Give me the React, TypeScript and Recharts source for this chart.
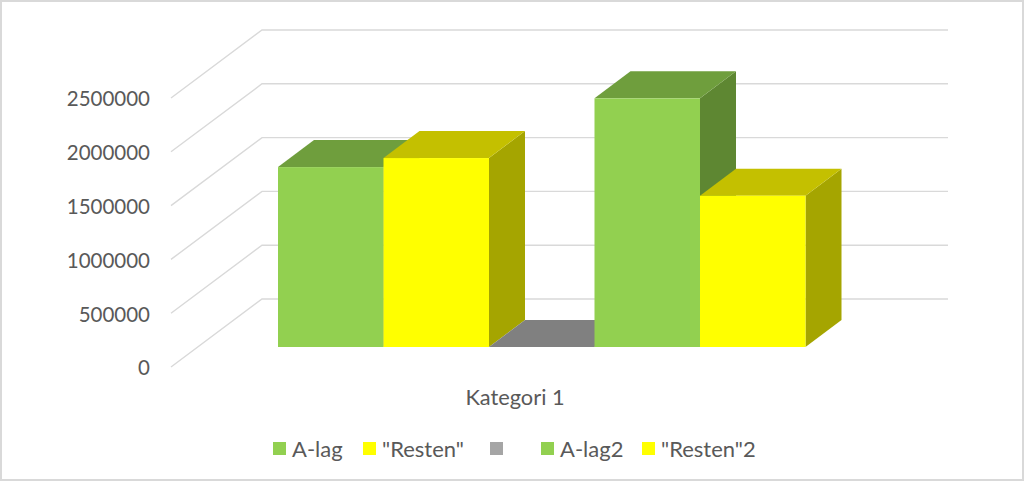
import * as React from "react";
import {
  Bar,
  BarChart,
  CartesianGrid,
  Legend,
  XAxis,
  YAxis,
} from "recharts";

const categories = ["Kategori 1"];
const aLag = [1672000];
const resten = [1756000];
const blank = [0];
const aLag2 = [2311000];
const resten2 = [1406000];
const yTicks = [0, 500000, 1000000, 1500000, 2000000, 2500000];

const rows = categories.map((name, i) => ({
  name,
  aLag: aLag[i],
  resten: resten[i],
  blank: blank[i],
  aLag2: aLag2[i],
  resten2: resten2[i],
}));

const TEXT = "#595959";
const GRID = "#d9d9d9";
const FONT = "Lato, sans-serif";

// how far the back of each bar sits from its front face
const DEPTH_X = 36;
const DEPTH_Y = 27;

// legend item widths, left edge to left edge
const LEGEND_WIDTHS = [90, 127, 51, 101, 120];

const GREEN = { front: "#92d050", top: "#6f9e3d", side: "#5e8732" };
const YELLOW = { front: "#ffff00", top: "#c4c000", side: "#a5a500" };
const GREY = { front: "#a5a5a5", top: "#808080", side: "#6e6e6e" };

function box3d(colors: { front: string; top: string; side: string }) {
  return function Box(props: any) {
    const { x, y, width, height } = props;
    const r = x + width;
    const b = y + height;
    return (
      <g>
        {height > 0 && (
          <polygon
            points={`${r},${y} ${r + DEPTH_X},${y - DEPTH_Y} ${r + DEPTH_X},${b - DEPTH_Y} ${r},${b}`}
            fill={colors.side}
          />
        )}
        <polygon
          points={`${x},${y} ${r},${y} ${r + DEPTH_X},${y - DEPTH_Y} ${x + DEPTH_X},${y - DEPTH_Y}`}
          fill={colors.top}
        />
        {height > 0 && <rect x={x} y={y} width={width} height={height} fill={colors.front} />}
      </g>
    );
  };
}

// wall line: runs up the left side wall, then along the back wall
function wallLine(props: any) {
  const y = props.y1;
  return (
    <polyline
      key={props.key ?? y}
      points={`171,${y + 20} 262,${y - 48} 948,${y - 48}`}
      fill="none"
      stroke={GRID}
      strokeWidth={1.4}
    />
  );
}

function YTick(props: any) {
  return (
    <text
      x={150}
      y={props.y + 21}
      dy="0.36em"
      textAnchor="end"
      fill={TEXT}
      fontFamily={FONT}
      fontSize={20.5}
    >
      {props.payload.value}
    </text>
  );
}

function XTick(props: any) {
  return (
    <text
      x={props.x - 27}
      y={397}
      dy="0.36em"
      textAnchor="middle"
      fill={TEXT}
      fontFamily={FONT}
      fontSize={21.8}
    >
      {props.payload.value}
    </text>
  );
}

function LegendContent(props: any) {
  return (
    <div style={{ display: "flex", alignItems: "center", height: 26, paddingLeft: 273 }}>
      {props.payload.map((entry: any, i: number) => (
        <div key={entry.dataKey} style={{ display: "flex", alignItems: "center", width: LEGEND_WIDTHS[i] }}>
          <span style={{ width: 13, height: 13, background: entry.color, marginRight: 6 }} />
          <span style={{ color: TEXT, fontFamily: FONT, fontSize: 22, whiteSpace: "pre" }}>
            {entry.value}
          </span>
        </div>
      ))}
    </div>
  );
}

export default function App() {
  return (
    <div
      style={{
        position: "absolute",
        left: 0,
        top: 0,
        width: 1024,
        height: 481,
        background: "#fff",
        boxShadow: "inset 0 0 0 2px #d9d9d9",
      }}
    >
      <BarChart
        width={1024}
        height={481}
        data={rows}
        barGap={0}
        barCategoryGap={0}
        barSize={105.5}
        margin={{ top: 78, right: 218, left: 0, bottom: 20 }}
      >
        <CartesianGrid vertical={false} horizontal={wallLine} />
        <XAxis dataKey="name" height={88} axisLine={false} tickLine={false} tick={XTick} />
        <YAxis
          width={278}
          domain={[0, 2500000]}
          ticks={yTicks}
          interval={0}
          axisLine={false}
          tickLine={false}
          tick={YTick}
        />
        <Legend
          verticalAlign="bottom"
          height={26}
          content={LegendContent}
          itemSorter={null}
          wrapperStyle={{ left: 0, width: 1024 }}
        />
        <Bar dataKey="aLag" name="A-lag" fill={GREEN.front} shape={box3d(GREEN)} isAnimationActive={false} />
        <Bar dataKey="resten" name={'"Resten"'} fill={YELLOW.front} shape={box3d(YELLOW)} isAnimationActive={false} />
        <Bar dataKey="blank" name=" " fill={GREY.front} shape={box3d(GREY)} isAnimationActive={false} />
        <Bar dataKey="aLag2" name="A-lag2" fill={GREEN.front} shape={box3d(GREEN)} isAnimationActive={false} />
        <Bar dataKey="resten2" name={'"Resten"2'} fill={YELLOW.front} shape={box3d(YELLOW)} isAnimationActive={false} />
      </BarChart>
    </div>
  );
}
